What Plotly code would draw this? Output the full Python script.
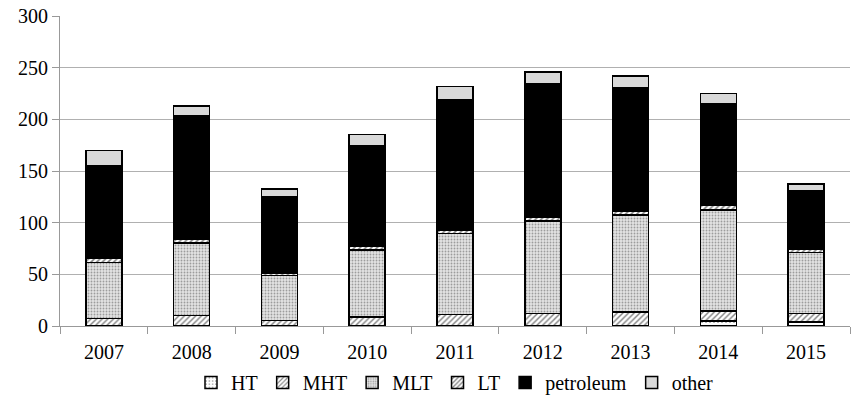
import plotly.graph_objects as go

years = ["2007", "2008", "2009", "2010", "2011", "2012", "2013", "2014", "2015"]
ht = [0, 0, 0, 0, 0, 0, 0, 4.8, 4]
mht = [7.5, 10, 5.5, 8.5, 11, 12, 13.5, 9.7, 8]
mlt = [54, 70.5, 43.5, 65, 78.7, 89.6, 94, 97.8, 59.3]
lt = [4.5, 3.5, 2, 3.5, 3.3, 3.4, 3.6, 4.5, 3.2]
petroleum = [89, 119.5, 74.5, 97, 126.4, 129, 119.6, 98.2, 56.5]
other = [15, 9.5, 7, 11.5, 12.2, 12, 11.4, 9.8, 6.5]
y_ticks = [0, 50, 100, 150, 200, 250, 300]

FONT = "Times New Roman, Liberation Serif, serif"

series = [
    ("HT", ht, dict(color="white", pattern=dict(shape=".", fgcolor="#444", bgcolor="white", size=4, solidity=0.2))),
    ("MHT", mht, dict(color="white", pattern=dict(shape="/", fgcolor="black", bgcolor="white", size=4, solidity=0.35))),
    ("MLT", mlt, dict(color="#d0d0d0", pattern=dict(shape=".", fgcolor="#555", bgcolor="#e3e3e3", size=3, solidity=0.3))),
    ("LT", lt, dict(color="white", pattern=dict(shape="/", fgcolor="black", bgcolor="white", size=4, solidity=0.4))),
    ("petroleum", petroleum, dict(color="black")),
    ("other", other, dict(color="#d9d9d9")),
]

fig = go.Figure()
for name, vals, m in series:
    marker = dict(m)
    marker["line"] = dict(color="black", width=1.5)
    fig.add_trace(go.Bar(x=years, y=vals, name=name, marker=marker))

fig.update_layout(
    barmode="stack",
    bargap=0.59,
    width=857, height=408,
    margin=dict(l=60, r=7, t=16, b=82, autoexpand=False),
    plot_bgcolor="white", paper_bgcolor="white",
    font=dict(family=FONT, size=20, color="black"),
    legend=dict(orientation="h", x=0.5, xanchor="center", yref="container",
                y=0.11, yanchor="top",
                font=dict(family=FONT, size=20, color="black"), itemwidth=30,
                traceorder="normal"),
    xaxis=dict(showline=True, linecolor="#999", linewidth=1, ticks="outside",
               tickson="boundaries", ticklen=7, tickcolor="#999", showgrid=False,
               automargin=False, ticklabelstandoff=8,
               tickfont=dict(family=FONT, size=20)),
    yaxis=dict(range=[0, 300], tickvals=y_ticks, showline=True, linecolor="#999", linewidth=1,
               ticks="outside", ticklen=7, tickcolor="#999", gridcolor="#b0b0b0",
               gridwidth=1, zeroline=False, automargin=False,
               ticklabeloverflow="allow",
               tickfont=dict(family=FONT, size=20)),
)

fig.write_html("out.html", config={"displayModeBar": False},
               post_script="document.body.style.margin='0';document.body.style.overflow='hidden';")
